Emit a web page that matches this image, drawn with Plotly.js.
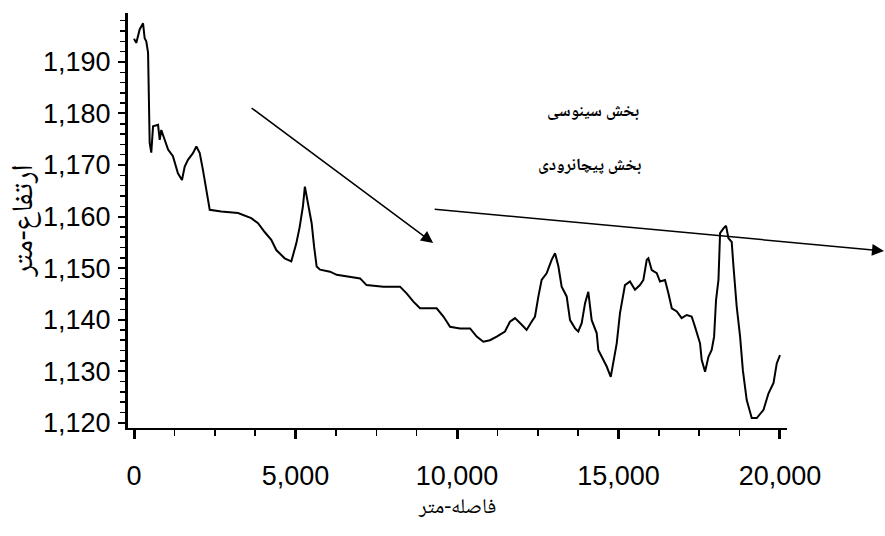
<!DOCTYPE html>
<html>
<head>
<meta charset="utf-8">
<script src="https://cdn.plot.ly/plotly-3.0.1.min.js"></script>
<style>html,body{margin:0;padding:0;background:#fff}#chart{width:885px;height:536px}</style>
</head>
<body>
<div id="chart"></div>
<script>
// Distance along profile (m)
const distance = [0,70,175,280,330,380,435,455,485,535,590,745,795,845,950,1055,1205,1360,1485,1570,1670,1825,1930,2035,2135,2240,2345,2700,3220,3630,3840,4045,4250,4405,4665,4870,5025,5130,5230,5290,5395,5500,5575,5655,5760,6070,6275,6690,7000,7200,7720,8235,8440,8650,8855,9370,9580,9785,10095,10405,10610,10815,11020,11230,11485,11640,11795,12005,12155,12310,12415,12520,12620,12775,12930,13035,13140,13240,13395,13500,13655,13755,13860,13965,14065,14170,14325,14375,14530,14635,14760,14860,14945,15045,15130,15200,15355,15510,15665,15770,15875,15925,16030,16185,16285,16440,16545,16650,16805,16955,17110,17265,17370,17525,17575,17680,17785,17885,17960,18020,18095,18145,18250,18330,18405,18505,18560,18660,18765,18850,18970,19125,19280,19490,19645,19800,19900,20000];
// Elevation (m)
const elevation = [1194.5,1193.7,1196.3,1197.5,1194.6,1194,1191.8,1178.8,1174.3,1172.4,1177.5,1177.8,1174.9,1176.8,1174.9,1173,1171.7,1168.4,1167.1,1169.7,1171,1172.3,1173.6,1172.3,1169,1165.2,1161.3,1161,1160.7,1159.7,1158.7,1157,1155.5,1153.5,1151.9,1151.3,1154.8,1158,1162,1165.8,1162.6,1158.7,1154.2,1150.3,1149.7,1149.3,1148.7,1148.3,1148,1146.7,1146.4,1146.4,1145.1,1143.5,1142.2,1142.2,1140.6,1138.6,1138.3,1138.3,1136.7,1135.7,1136,1136.7,1137.7,1139.6,1140.3,1139,1138,1139.6,1140.6,1144.5,1147.7,1149,1151.6,1152.9,1150.3,1146.4,1144.5,1139.9,1138.3,1137.7,1139.3,1143.2,1145.4,1139.9,1137.4,1134.1,1132.2,1130.9,1128.9,1132.2,1135.4,1141.2,1144.5,1146.7,1147.4,1145.8,1146.7,1147.7,1151.6,1151.9,1149.6,1149,1147.4,1147.7,1145.1,1142.2,1141.6,1140.3,1140.9,1140.6,1138.6,1135.4,1132.2,1129.9,1132.8,1134.1,1136.7,1143.8,1147.7,1156.8,1157.7,1158.2,1155.8,1155.1,1150.3,1142.5,1136.7,1130.2,1124.4,1120.9,1120.9,1122.5,1125.7,1127.7,1131.5,1133.1];

const xTickVals = [0,5000,10000,15000,20000];
const xTickText = ['0','5,000','10,000','15,000','20,000'];
const yTickVals = [1120,1130,1140,1150,1160,1170,1180,1190];
const yTickText = ['1,120','1,130','1,140','1,150','1,160','1,170','1,180','1,190'];

const xTitle = 'فاصله-متر';
const yTitle = 'ارتفاع-متر';
const label1 = 'بخش سینوسی';
const label2 = 'بخش پیچانرودی';

const tickFont = {family: '"Liberation Sans Narrow", "Arial Narrow", "Liberation Sans", Arial, sans-serif', size: 27, color: '#000'};
const arabicFont = '"Noto Naskh Arabic", "Noto Sans Arabic", "DejaVu Sans", sans-serif';

const trace = {
  x: distance, y: elevation, type: 'scatter', mode: 'lines',
  line: {color: '#000', width: 2}, hoverinfo: 'skip'
};

const layout = {
  width: 885, height: 536,
  margin: {l: 128, r: 98, t: 13, b: 108},
  paper_bgcolor: '#fff', plot_bgcolor: '#fff',
  showlegend: false,
  xaxis: {
    range: [-186, 20217], showgrid: false, zeroline: false,
    showline: true, linecolor: '#000', linewidth: 2,
    tickmode: 'array', tickvals: xTickVals, ticktext: xTickText,
    ticks: 'outside', ticklen: 9, tickwidth: 3, tickcolor: '#000',
    ticklabelstandoff: 14,
    minor: {dtick: 1250, tick0: 0, ticks: 'outside', ticklen: 6, tickwidth: 1.5, tickcolor: '#000', showgrid: false},
    tickfont: tickFont,
    title: {text: xTitle, font: {family: arabicFont, size: 21, color: '#000'}, standoff: 8}
  },
  yaxis: {
    range: [1118.97, 1199.5], showgrid: false, zeroline: false,
    showline: true, linecolor: '#000', linewidth: 3,
    tickmode: 'array', tickvals: yTickVals, ticktext: yTickText,
    ticks: 'outside', ticklen: 7, tickwidth: 2, tickcolor: '#000',
    ticklabelstandoff: 2,
    minor: {dtick: 2, tick0: 1120, ticks: 'outside', ticklen: 5, tickwidth: 1.5, tickcolor: '#000', showgrid: false},
    tickfont: tickFont,
    title: {text: yTitle, font: {family: arabicFont, size: 30, color: '#000'}, standoff: 2}
  },
  annotations: [
    {xref: 'paper', yref: 'paper', x: 0.778, y: 0.80, text: '<b>' + label1 + '</b>', showarrow: false,
     font: {family: arabicFont, size: 17, color: '#000'}},
    {xref: 'paper', yref: 'paper', x: 0.783, y: 0.67, text: '<b>' + label2 + '</b>', showarrow: false,
     font: {family: arabicFont, size: 17, color: '#000'}},
    {xref: 'paper', yref: 'paper', x: 0.463, y: 0.446, text: '', showarrow: true,
     axref: 'pixel', ayref: 'pixel', ax: -183, ay: -136,
     arrowhead: 2, arrowsize: 1.6, arrowwidth: 1.5, arrowcolor: '#000', standoff: 0},
    {xref: 'paper', yref: 'paper', x: 1.149, y: 0.4265, text: '', showarrow: true,
     axref: 'pixel', ayref: 'pixel', ax: -452, ay: -42,
     arrowhead: 2, arrowsize: 1.6, arrowwidth: 1.5, arrowcolor: '#000', standoff: 0}
  ]
};

Plotly.newPlot('chart', [trace], layout, {staticPlot: true, displayModeBar: false});
</script>
</body>
</html>
